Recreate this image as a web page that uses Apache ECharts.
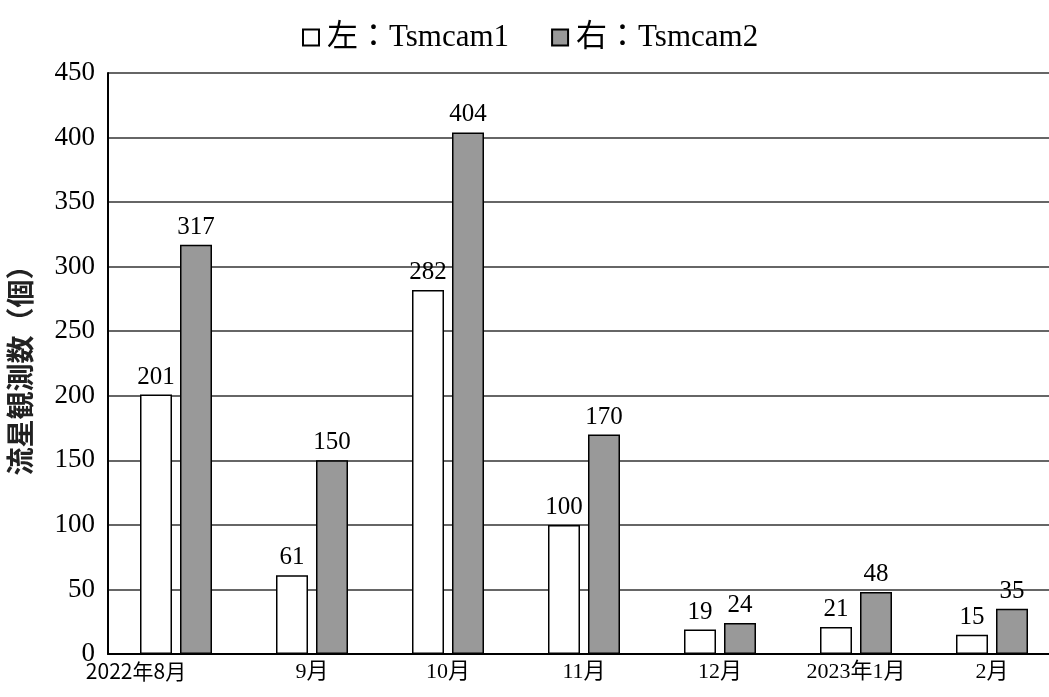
<!DOCTYPE html>
<html>
<head>
<meta charset="utf-8">
<script src="https://cdn.jsdelivr.net/npm/echarts@6/dist/echarts.min.js"></script>
<style>
  html, body { margin: 0; padding: 0; background: #fff; }
  #chart { width: 1049px; height: 697px; }
</style>
</head>
<body>
<div id="chart"></div>
<script>
// Monthly meteor counts recorded by two cameras
const months = ['2022年8月', '9月', '10月', '11月', '12月', '2023年1月', '2月'];
const tsmcam1 = [201, 61, 282, 100, 19, 21, 15];
const tsmcam2 = [317, 150, 404, 170, 24, 48, 35];
const seriesNames = ['左：Tsmcam1', '右：Tsmcam2'];
const yTicks = { min: 0, max: 450, interval: 50 };

const SERIF = "'Liberation Serif', 'Noto Sans CJK JP', serif";
const GOTHIC = "'Noto Sans CJK JP', sans-serif";

const chart = echarts.init(document.getElementById('chart'), null, { renderer: 'canvas' });

// first month label sits left of its group and uses a gothic face
const categoryData = months.map((m, i) => i === 0
  ? { value: m, textStyle: { fontFamily: GOTHIC, fontSize: 21, padding: [0, 80, 0, 0] } }
  : { value: m });

const labelStyle = {
  show: true,
  position: 'top',
  distance: 5,
  color: '#000',
  fontFamily: SERIF,
  fontSize: 25
};

chart.setOption({
  animation: false,
  backgroundColor: '#fff',
  legend: {
    top: 17,
    left: 297,
    itemWidth: 16,
    itemHeight: 16,
    itemGap: 42,
    icon: 'rect',
    textStyle: { fontFamily: SERIF, fontSize: 31, color: '#000', padding: [0, 0, 0, 3] },
    data: seriesNames
  },
  // the plot area runs past the right edge of the page
  grid: { left: 108, top: 73, bottom: 43, width: 952, outerBoundsMode: 'none', containLabel: false },
  xAxis: {
    type: 'category',
    data: categoryData,
    axisLine: { show: true, lineStyle: { color: '#000', width: 2 } },
    axisTick: { show: false },
    axisLabel: { fontFamily: SERIF, fontSize: 22, color: '#000', margin: 7, interval: 0 }
  },
  yAxis: {
    type: 'value',
    min: yTicks.min,
    max: yTicks.max,
    interval: yTicks.interval,
    name: '流星観測数（個）',
    nameLocation: 'middle',
    nameGap: 74,
    nameRotate: 90,
    nameTextStyle: { fontFamily: GOTHIC, fontSize: 28, fontWeight: 'bold', color: '#222' },
    axisLine: { show: true, lineStyle: { color: '#000', width: 2 } },
    axisTick: { show: false },
    axisLabel: { fontFamily: SERIF, fontSize: 27, color: '#000', margin: 13 },
    splitLine: { show: true, lineStyle: { color: '#333', width: 1.5 } }
  },
  series: [
    {
      name: seriesNames[0],
      type: 'bar',
      data: tsmcam1,
      barWidth: 32,
      barGap: '25%',
      itemStyle: { color: '#fff', borderColor: '#000', borderWidth: 1.5 },
      label: labelStyle
    },
    {
      name: seriesNames[1],
      type: 'bar',
      data: tsmcam2,
      barWidth: 32,
      barGap: '25%',
      itemStyle: { color: '#999', borderColor: '#000', borderWidth: 1.5 },
      label: labelStyle
    }
  ]
});
</script>
</body>
</html>
